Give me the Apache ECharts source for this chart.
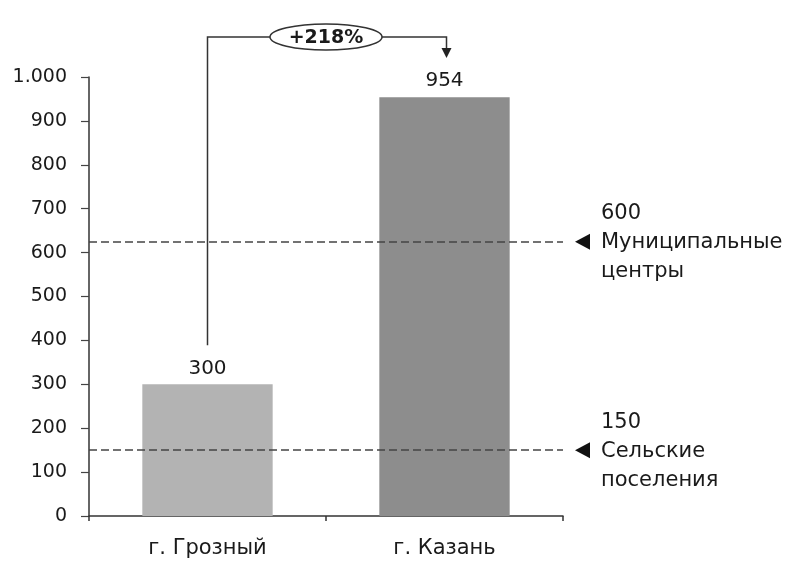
<!DOCTYPE html>
<html><head><meta charset="utf-8">
<script src="https://cdn.jsdelivr.net/npm/echarts@6/dist/echarts.min.js"></script>
<style>html,body{margin:0;background:#fff}#c{width:793px;height:562px}</style>
</head><body><div id="c"></div>
<script>
// ---- data ----
const categories = ['г. Грозный', 'г. Казань'];
const values = [300, 954];
const barColors = ['#b3b3b3', '#8d8d8d'];
const thresholdLabels = [600, 150];          // printed values
const thresholdLinePos = [625, 150];          // where dashed lines are drawn
const thresholdNames = ['Муниципальные\nцентры', 'Сельские\nпоселения'];
const changeLabel = '+218%';
const yMin = 0, yMax = 1000, yStep = 100;

const FONT = '"DejaVu Sans", "Liberation Sans", Arial, sans-serif';
const TXT = '#1a1a1a';
const chart = echarts.init(document.getElementById('c'));

function fmt(v){ return String(v).replace(/\B(?=(\d{3})+$)/g, '.'); }

chart.setOption({
  animation: false,
  grid: { left: 89, right: 230, top: 77, bottom: 46 },
  xAxis: {
    type: 'category', data: categories,
    axisLine: { lineStyle: { color: '#333', width: 1.5 } },
    axisTick: { show: true, length: 5, lineStyle: { color: '#333', width: 1.5 } },
    axisLabel: { color: TXT, fontSize: 21, fontFamily: FONT, margin: 22 }
  },
  yAxis: {
    type: 'value', min: yMin, max: yMax, interval: yStep,
    splitLine: { show: false },
    axisLine: { show: true, lineStyle: { color: '#333', width: 1.5 } },
    axisTick: { show: true, length: 8, lineStyle: { color: '#444', width: 1.2 } },
    axisLabel: { color: TXT, fontSize: 19, fontFamily: FONT, margin: 22, formatter: fmt }
  },
  series: [{
    type: 'bar', barWidth: '55%',
    data: values.map((v, i) => ({ value: v, itemStyle: { color: barColors[i] } })),
    label: { show: true, position: 'top', distance: 6, color: TXT, fontSize: 20, fontFamily: FONT },
    markLine: {
      silent: true, symbol: 'none', label: { show: false },
      lineStyle: { type: [8, 4], color: '#444', width: 1.5 },
      data: thresholdLinePos.map(v => ({ yAxis: v }))
    }
  }]
});

// ---- annotations positioned via the chart's own scales ----
const pG = chart.convertToPixel({ gridIndex: 0 }, [0, values[0]]);
const pK = chart.convertToPixel({ gridIndex: 0 }, [1, values[1]]);
const yTop = chart.convertToPixel({ yAxisIndex: 0 }, yMax);
const xRight = 793 - 230;
const bracketY = yTop - 40;
const midX = (pG[0] + pK[0]) / 2;
const ell = { rx: 56, ry: 13 };
const g = [];
g.push({ type: 'polyline', shape: { points: [[pG[0], pG[1] - 39], [pG[0], bracketY], [midX - ell.rx, bracketY]] },
  style: { stroke: '#333', lineWidth: 1.5, fill: null } });
g.push({ type: 'polyline', shape: { points: [[midX + ell.rx, bracketY], [pK[0] + 2, bracketY], [pK[0] + 2, bracketY + 12]] },
  style: { stroke: '#333', lineWidth: 1.5, fill: null } });
g.push({ type: 'polygon', shape: { points: [[pK[0] - 3, bracketY + 11], [pK[0] + 7, bracketY + 11], [pK[0] + 2, bracketY + 21]] },
  style: { fill: '#222' } });
g.push({ type: 'ellipse', shape: { cx: midX, cy: bracketY, rx: ell.rx, ry: ell.ry },
  style: { stroke: '#333', lineWidth: 1.5, fill: '#fff' } });
g.push({ type: 'text', x: midX, y: bracketY + 1,
  style: { text: changeLabel, fill: '#1a1a1a', font: 'bold 19px ' + FONT, align: 'center', verticalAlign: 'middle' } });

thresholdLinePos.forEach((v, i) => {
  const y = chart.convertToPixel({ yAxisIndex: 0 }, v);
  g.push({ type: 'polygon', shape: { points: [[xRight + 12, y], [xRight + 27, y - 8], [xRight + 27, y + 8]] },
    style: { fill: '#111' } });
  g.push({ type: 'text', x: xRight + 38, y: y + 1,
    style: { text: thresholdLabels[i] + '\n' + thresholdNames[i], fill: TXT, font: '21px ' + FONT,
      lineHeight: 29, align: 'left', verticalAlign: 'middle' } });
});
chart.setOption({ graphic: g });
</script>
</body></html>
